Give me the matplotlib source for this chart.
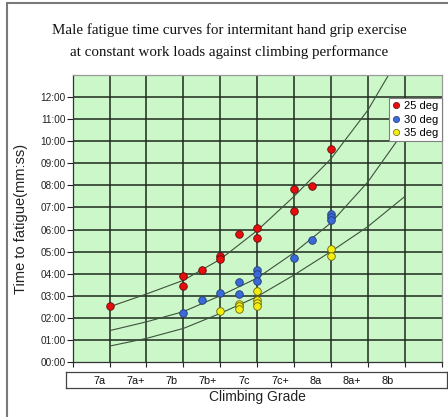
import matplotlib
matplotlib.use("Agg")
import matplotlib.pyplot as plt
from matplotlib.patches import Rectangle
from matplotlib.lines import Line2D

# ---------------- data ----------------
grades = ['7a', '7a+', '7b', '7b+', '7c', '7c+', '8a', '8a+', '8b']
y_tick_labels = ['00:00', '01:00', '02:00', '03:00', '04:00', '05:00', '06:00',
                 '07:00', '08:00', '09:00', '10:00', '11:00', '12:00']

# x = grade position (7a = 1, 7a+ = 2, ...), y = minutes
red_x = [1, 3, 3, 3.5, 4, 4, 4.5, 5, 5, 6, 6, 6.5, 7]
red_y = [2.53, 3.91, 3.44, 4.17, 4.8, 4.65, 5.8, 6.05, 5.6, 7.82, 6.85, 7.97, 9.65]

blue_x = [3, 3.5, 4, 4.5, 4.5, 5, 5, 5, 6, 6.5, 7, 7, 7]
blue_y = [2.23, 2.81, 3.14, 3.64, 3.07, 4.15, 4.0, 3.67, 4.7, 5.53, 6.72, 6.55, 6.42]

yellow_x = [4, 4.5, 4.5, 4.5, 5, 5, 5, 5, 7, 7]
yellow_y = [2.32, 2.64, 2.53, 2.41, 3.23, 2.8, 2.68, 2.55, 5.14, 4.8]

# trend curves
red_curve_x = [1, 2, 3, 4, 5, 6, 7, 8, 8.6]
red_curve_y = [2.5, 3.08, 3.7, 4.65, 5.95, 7.5, 9.2, 11.4, 13.1]
blue_curve_x = [1, 2, 3, 4, 5, 6, 7, 8, 9]
blue_curve_y = [1.42, 1.82, 2.28, 3.0, 3.8, 4.95, 6.3, 8.15, 10.5]
yellow_curve_x = [1, 2, 3, 4, 5, 6, 7, 8, 9]
yellow_curve_y = [0.72, 1.07, 1.52, 2.2, 2.96, 3.94, 5.0, 6.13, 7.49]

series_labels = ['25 deg', '30 deg', '35 deg']

# ---------------- figure ----------------
W, H = 448, 417
fig = plt.figure(figsize=(W / 100, H / 100), dpi=100)
fig.patch.set_facecolor('white')

def fx(px):
    return px / W

def fy(py):
    return 1 - py / H

ax_l, ax_r, ax_t, ax_b = 72.7, 441.5, 75, 362
ax = fig.add_axes([fx(ax_l), fy(ax_b), fx(ax_r - ax_l), (ax_b - ax_t) / H])
ax.set_facecolor('#ccf7c8')
ax.set_xlim(0, 10)
ax.set_ylim(0, 13)

grid_color = '#1e2a1e'
for k in range(1, 10):
    ax.axvline(k, color=grid_color, lw=1.1, zorder=1)
for m in range(1, 13):
    ax.axhline(m, color=grid_color, lw=1.1, zorder=1)

ax.set_yticks(range(0, 13))
ax.set_yticklabels(y_tick_labels, fontsize=7.2, family='Liberation Sans')
ax.set_xticks(range(0, 11))
ax.set_xticklabels([])
ax.tick_params(axis='y', direction='out', length=4, width=0.8, colors='#222222', pad=1.2)
ax.tick_params(axis='x', direction='out', length=3.5, width=0.8, colors='#222222')
for s in ['left', 'bottom']:
    ax.spines[s].set_color('#333333')
    ax.spines[s].set_linewidth(0.9)
for s in ['top', 'right']:
    ax.spines[s].set_color('#9a9a9a')
    ax.spines[s].set_linewidth(0.9)

curve_color = '#3d523d'
ax.plot(red_curve_x, red_curve_y, color=curve_color, lw=0.8, zorder=2, clip_on=True)
ax.plot(blue_curve_x, blue_curve_y, color=curve_color, lw=0.8, zorder=2, clip_on=True)
ax.plot(yellow_curve_x, yellow_curve_y, color=curve_color, lw=0.8, zorder=2, clip_on=True)

ms = 30
ax.scatter(red_x, red_y, s=ms, c='#e80c0c', edgecolors='#5a1010', linewidths=0.6, zorder=4)
ax.scatter(blue_x, blue_y, s=ms, c='#3a6ad8', edgecolors='#233a70', linewidths=0.6, zorder=4)
ax.scatter(yellow_x, yellow_y, s=ms, c='#f2ee10', edgecolors='#6a6410', linewidths=0.6, zorder=4)

handles = [
    Line2D([], [], ls='none', marker='o', ms=4.5, mfc='#e80c0c', mec='#5a1010', mew=0.5),
    Line2D([], [], ls='none', marker='o', ms=4.5, mfc='#3a6ad8', mec='#233a70', mew=0.5),
    Line2D([], [], ls='none', marker='o', ms=4.5, mfc='#f2ee10', mec='#6a6410', mew=0.5),
]
leg = ax.legend(handles, series_labels, loc='upper right',
                bbox_to_anchor=(fx(441.5), fy(98)), bbox_transform=fig.transFigure,
                borderaxespad=0, handlelength=0.6, handletextpad=0.4,
                borderpad=0.3, labelspacing=0.3, fancybox=False, framealpha=1,
                prop={'family': 'Liberation Sans', 'size': 8})
leg.get_frame().set_edgecolor('#808080')
leg.get_frame().set_linewidth(0.8)
leg.set_zorder(10)

# category box
bx_l, bx_r, bx_t, bx_b = 65.7, 446.7, 371.7, 388.3
bax = fig.add_axes([fx(bx_l), fy(bx_b), fx(bx_r - bx_l), (bx_b - bx_t) / H])
bax.set_xlim(0, bx_r - bx_l)
bax.set_ylim(0, 1)
bax.set_xticks([])
bax.set_yticks([])
for s in bax.spines.values():
    s.set_color('#444444')
    s.set_linewidth(0.9)
first, step = 100 - bx_l, 36.0
for i, g in enumerate(grades):
    bax.text(first + i * step, 0.45, g, ha='center', va='center', fontsize=7.8,
             family=['Liberation Sans Narrow', 'Liberation Sans'], color='#111111')

# labels and title
fig.text(fx(21.5), fy(219), 'Time to fatigue(mm:ss)', rotation=90, ha='center', va='center',
         fontsize=10.5, family='Liberation Sans', color='#222222')
fig.text(fx(257), fy(397), 'Climbing Grade', ha='center', va='center',
         fontsize=10, family='Liberation Sans', color='#222222')
fig.text(fx(229), fy(30), 'Male fatigue time curves for intermitant hand grip exercise',
         ha='center', va='center', fontsize=10.8, family='Liberation Serif', color='#111111')
fig.text(fx(229), fy(52), 'at constant work loads against climbing performance',
         ha='center', va='center', fontsize=10.8, family='Liberation Serif', color='#111111')

# outer frame
fig.patches.append(Rectangle((fx(7), -0.1), 1.0, fy(3) + 0.1, transform=fig.transFigure,
                             facecolor='none', edgecolor='#7a7a7a', lw=1.5, figure=fig))

fig.savefig('out.png', dpi=100)
